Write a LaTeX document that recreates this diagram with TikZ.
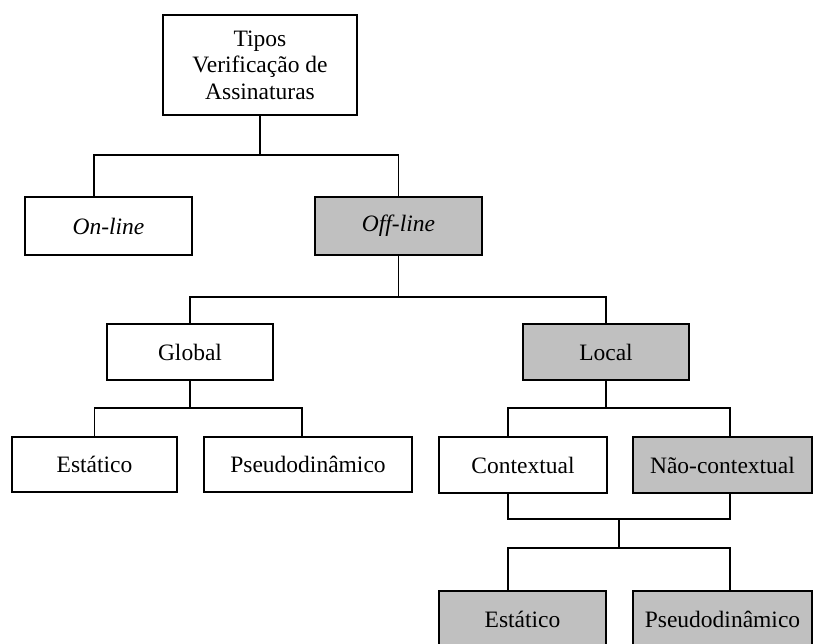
\documentclass[tikz,border=0pt]{standalone}
\usepackage{fontspec}
\setmainfont{Liberation Serif}
\usepackage{tikz}
\definecolor{cinza}{HTML}{C0C0C0}

\begin{document}
\begin{tikzpicture}[x=1pt, y=-1pt, line width=1.8pt,
  box/.style = {draw, line width=2.4pt, rectangle, inner sep=0pt, outer sep=0pt, align=center,
                font=\fontsize{23.5}{26.5}\selectfont, minimum height=56pt},
  marcado/.style = {box, fill=cinza}]
\useasboundingbox (0,0) rectangle (816,644);
\node[box, minimum width=194pt, minimum height=100pt] (raiz) at (260,65) {Tipos\\Verificação de\\Assinaturas};
\node[box, minimum width=167pt, minimum height=58pt] (online) at (108.5,226) {\itshape On-line};
\node[marcado, minimum width=167pt, minimum height=58pt] (offline) at (398.5,226) {\itshape Off-line};
\node[box, minimum width=166pt] (global) at (190,352) {Global};
\node[marcado, minimum width=166pt] (local) at (606,352) {Local};
\node[box, minimum width=165pt, minimum height=55pt] (estg) at (94.5,464.5) {Estático};
\node[box, minimum width=208pt, minimum height=55pt] (pseug) at (308,464.5) {Pseudodinâmico};
\node[box, minimum width=168pt] (ctx) at (523,465) {Contextual};
\node[marcado, minimum width=179pt] (nctx) at (722.5,465) {Não-contextual};
\node[marcado, minimum width=167pt] (estl) at (522.5,619) {Estático};
\node[marcado, minimum width=179pt] (pseul) at (722.5,619) {Pseudodinâmico};
% junções
\coordinate (j1) at (raiz.south |- 0,155);
\coordinate (j2) at (offline.south |- 0,297);
\coordinate (j3) at (global.south |- 0,408);
\coordinate (j4) at (local.south |- 0,408);
\coordinate (j5) at (619,519);
\coordinate (j6) at (619,548);
\draw (raiz.south) -- (j1);
\draw ([xshift=-14.5pt]online.north) |- (j1) -| (offline.north);
\draw (offline.south) -- (j2);
\draw (global.north) |- (j2) -| (local.north);
\draw (global.south) -- (j3);
\draw (estg.north) |- (j3) -| ([xshift=-6pt]pseug.north);
\draw (local.south) -- (j4);
\draw ([xshift=-15pt]ctx.north) |- (j4) -| ([xshift=7.5pt]nctx.north);
\draw ([xshift=-15pt]ctx.south) |- (j5) -| ([xshift=7.5pt]nctx.south);
\draw (j5) -- (j6);
\draw ([xshift=-14.5pt]estl.north) |- (j6) -| ([xshift=7.5pt]pseul.north);
\end{tikzpicture}
\end{document}
